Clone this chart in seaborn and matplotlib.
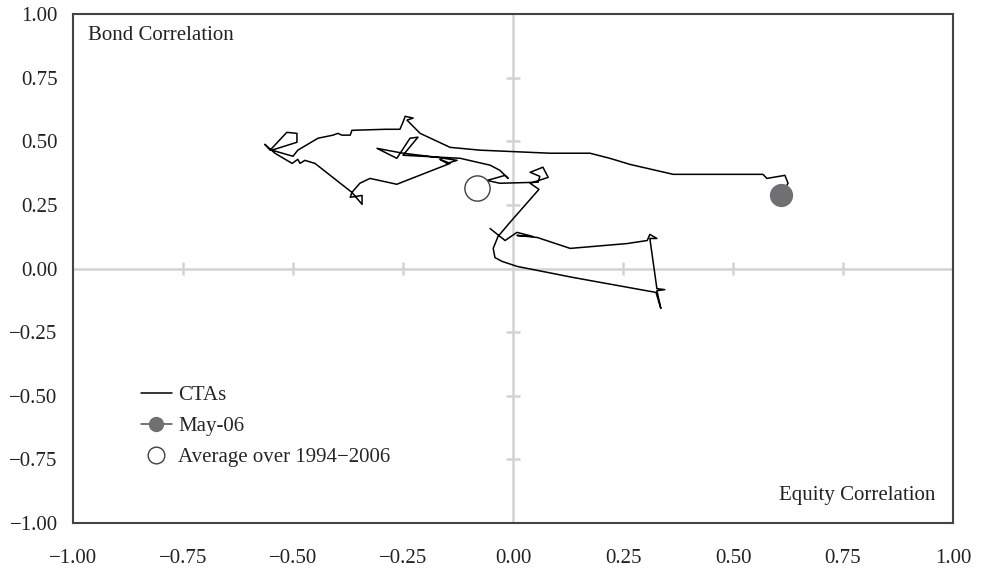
import matplotlib
matplotlib.use("Agg")
import matplotlib.pyplot as plt
from matplotlib.lines import Line2D
import seaborn as sns
import pandas as pd

# rolling correlations of CTAs (equity corr, bond corr), 1994 -> May-06
equity_corr = [
    -0.052, -0.018, 0.009, 0.045, 0.009, 0.055, 0.130, 0.259, 0.305, 0.311,
    0.327, 0.311, 0.327, 0.345, 0.327, 0.336, 0.325, 0.136, 0.010, -0.025,
    -0.041, -0.045, -0.034, -0.007, 0.059, 0.039, 0.080, 0.068, 0.039, 0.061,
    0.057, -0.030, -0.059, -0.018, -0.011, -0.030, -0.052, -0.120, -0.250, -0.216,
    -0.234, -0.264, -0.309, -0.250, -0.173, -0.127, -0.150, -0.166, -0.143, -0.264,
    -0.325, -0.348, -0.366, -0.370, -0.343, -0.343, -0.366, -0.450, -0.473, -0.484,
    -0.489, -0.502, -0.541, -0.564, -0.552, -0.514, -0.491, -0.491, -0.548, -0.500,
    -0.489, -0.443, -0.409, -0.398, -0.389, -0.370, -0.366, -0.291, -0.257, -0.250,
    -0.245, -0.227, -0.241, -0.211, -0.143, -0.075, 0.084, 0.175, 0.220, 0.266,
    0.364, 0.568, 0.577, 0.618, 0.625, 0.609,
]
bond_corr = [
    0.157, 0.110, 0.142, 0.126, 0.130, 0.122, 0.079, 0.098, 0.110, 0.134,
    0.118, 0.118, -0.079, -0.083, -0.087, -0.157, -0.094, -0.035, 0.008, 0.028,
    0.043, 0.079, 0.126, 0.181, 0.311, 0.335, 0.358, 0.398, 0.378, 0.362,
    0.339, 0.335, 0.346, 0.366, 0.354, 0.386, 0.406, 0.433, 0.445, 0.516,
    0.512, 0.433, 0.472, 0.453, 0.437, 0.425, 0.413, 0.429, 0.413, 0.331,
    0.354, 0.335, 0.299, 0.280, 0.287, 0.252, 0.299, 0.413, 0.425, 0.413,
    0.429, 0.413, 0.453, 0.488, 0.465, 0.535, 0.531, 0.496, 0.465, 0.441,
    0.465, 0.512, 0.524, 0.531, 0.524, 0.524, 0.543, 0.547, 0.547, 0.575,
    0.598, 0.591, 0.583, 0.531, 0.476, 0.465, 0.453, 0.453, 0.433, 0.409,
    0.370, 0.370, 0.354, 0.366, 0.335, 0.287,
]
last_point = (0.609, 0.287)       # May-06
avg_point = (-0.082, 0.315)       # average over 1994-2006
ticks = [-1.0, -0.75, -0.5, -0.25, 0.0, 0.25, 0.5, 0.75, 1.0]

df = pd.DataFrame({"equity": equity_corr, "bond": bond_corr})

sns.set_style("white")
plt.rcParams["font.family"] = ["Liberation Serif", "DejaVu Serif"]

fig = plt.figure(figsize=(9.82, 5.69), dpi=100)
ax = fig.add_axes([0.0743, 0.0808, 0.8962, 0.8946])

grey_line = "#d3d3d3"
ax.axhline(0, color=grey_line, lw=1.8, zorder=1)
ax.axvline(0, color=grey_line, lw=1.8, zorder=1)
inner = [t for t in ticks if t not in (-1.0, 0.0, 1.0)]
ax.vlines(inner, -0.025, 0.025, color=grey_line, lw=1.8, zorder=1)
ax.hlines(inner, -0.015, 0.015, color=grey_line, lw=1.8, zorder=1)

sns.lineplot(data=df, x="equity", y="bond", sort=False, estimator=None,
             color="black", lw=1.1, ax=ax, zorder=3)
sns.scatterplot(x=[last_point[0]], y=[last_point[1]], s=240, color="#707073",
                edgecolor="#707073", ax=ax, zorder=4)
sns.scatterplot(x=[avg_point[0]], y=[avg_point[1]], s=330, facecolor="white",
                edgecolor="#404040", linewidth=1.0, ax=ax, zorder=4)

ax.set_xlim(-1, 1)
ax.set_ylim(-1, 1)
ax.set_xticks(ticks)
ax.set_yticks(ticks)
fmt = lambda v: f"{v:.2f}".replace("-", "\u2212")
ax.set_xticklabels([fmt(t) for t in ticks], fontsize=15)
ax.set_yticklabels([fmt(t) for t in ticks], fontsize=15)
ax.tick_params(length=0, colors="#222222")
ax.tick_params(axis="x", pad=19)
ax.tick_params(axis="y", pad=11)
ax.set_xlabel("")
ax.set_ylabel("")
for sp in ax.spines.values():
    sp.set_color("#444444")
    sp.set_linewidth(1.5)

ax.text(0.017, 0.977, "Bond Correlation", transform=ax.transAxes,
        fontsize=15, ha="left", va="top", color="#222222")
ax.text(0.98, 0.035, "Equity Correlation", transform=ax.transAxes,
        fontsize=15, ha="right", va="bottom", color="#222222")

handles = [
    Line2D([], [], color="black", lw=1.1),
    Line2D([], [], color="#505050", lw=1.1, marker="o", markersize=10,
           markerfacecolor="#707073", markeredgecolor="#707073"),
    Line2D([], [], color="none", marker="o", markersize=12,
           markerfacecolor="white", markeredgecolor="#404040", markeredgewidth=1.0),
]
labels = ["CTAs", "May-06", "Average over 1994\u22122006"]
ax.legend(handles, labels, loc="upper left", bbox_to_anchor=(0.065, 0.29),
          frameon=False, fontsize=15, handlelength=1.5, handletextpad=0.3,
          labelspacing=0.55, borderpad=0)

fig.savefig("out.png", dpi=100)
